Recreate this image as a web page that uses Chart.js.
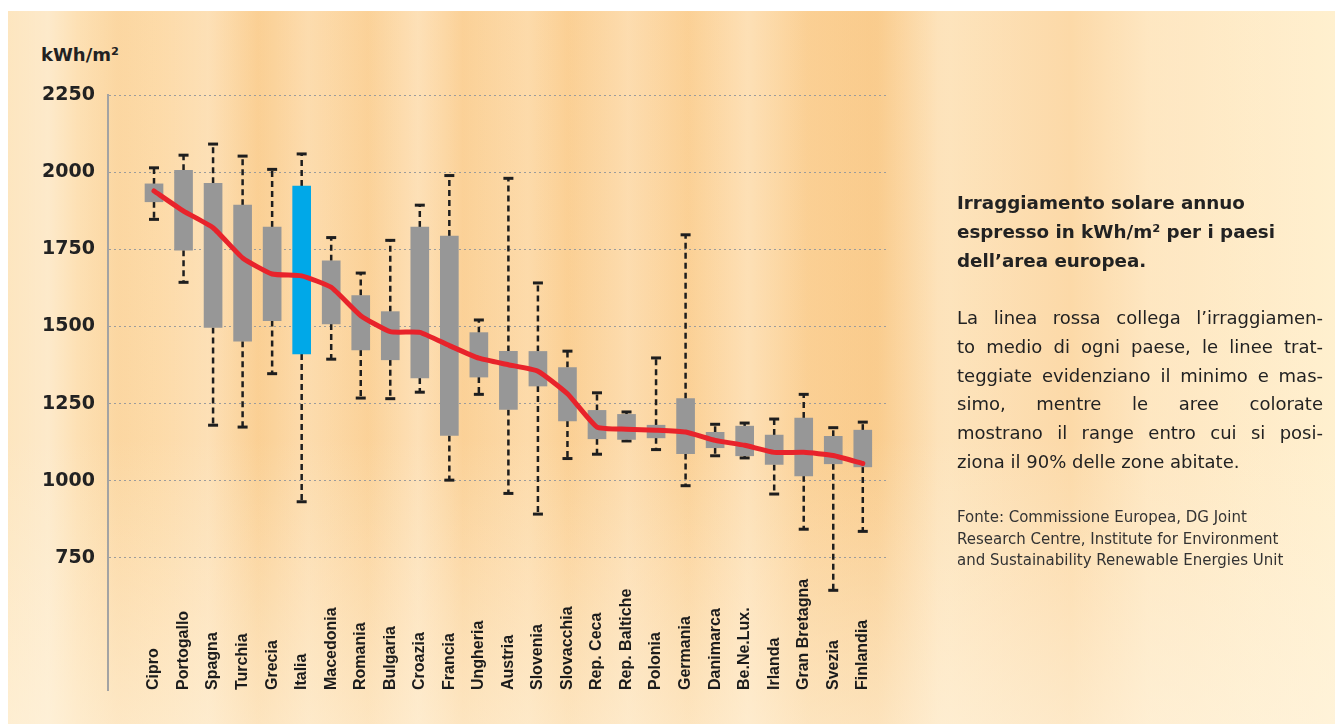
<!DOCTYPE html>
<html>
<head>
<meta charset="utf-8">
<script src="https://cdn.jsdelivr.net/npm/chart.js@4.4.1/dist/chart.umd.min.js"></script>
<style>
    html, body { margin: 0; padding: 0; background: #ffffff; }
    body { width: 1335px; height: 724px; position: relative; overflow: hidden; font-family: "DejaVu Sans", sans-serif; }
    #bg {
        position: absolute; left: 8px; top: 11px; width: 1327px; height: 713px;
        background:
            linear-gradient(180deg, rgba(255,255,255,0) 0%, rgba(255,255,255,0) 60%, rgba(255,245,225,0.55) 100%),
            linear-gradient(90deg, rgba(255,255,255,0) 0px, rgba(255,255,255,0.25) 40px, rgba(255,255,255,0) 70px, rgba(240,170,80,0.12) 110px, rgba(255,255,255,0) 150px, rgba(255,255,255,0.2) 200px, rgba(240,170,80,0.14) 250px, rgba(255,255,255,0.15) 300px, rgba(240,170,80,0.12) 360px, rgba(255,255,255,0.2) 410px, rgba(240,170,80,0.16) 455px, rgba(255,255,255,0.1) 520px, rgba(240,170,80,0.12) 560px, rgba(255,255,255,0.2) 620px, rgba(240,170,80,0.12) 680px, rgba(255,255,255,0.2) 740px, rgba(240,170,80,0.15) 800px, rgba(240,170,80,0.2) 870px, rgba(255,255,255,0.15) 930px, rgba(255,255,255,0) 1327px),
            linear-gradient(90deg, #fde6c0 0%, #fddcab 9%, #fcd59e 20%, #fdd9a6 33%, #fcd39a 46%, #fdd8a3 56%, #fcd49c 65%, #fddfb1 71%, #fcd59e 80%, #fee5bd 86%, #fff0cf 100%);
    }
    #chart { position: absolute; left: 0; top: 0; }
    #unit { position: absolute; left: 41px; top: 46px; font: bold 18px "DejaVu Sans", sans-serif; color: #222; line-height: 18px; }
    #side { position: absolute; left: 957px; top: 0; width: 366px; color: #222; }
    .title { position: absolute; top: 188px; width: 366px; font: bold 18.3px "DejaVu Sans", sans-serif; line-height: 29px; white-space: nowrap; }
    .body { position: absolute; top: 304px; width: 366px; font: 18px "DejaVu Sans", sans-serif; line-height: 28.8px; }
    .body span { display: block; text-align: justify; text-align-last: justify; white-space: nowrap; }
    .body span.last { text-align-last: left; }
    .src { position: absolute; top: 507px; width: 366px; font: 15px "DejaVu Sans", sans-serif; line-height: 21.5px; color: #333; white-space: nowrap; }
</style>
</head>
<body>
<div id="bg"></div>
<div id="unit">kWh/m²</div>
<canvas id="chart" width="1335" height="724"></canvas>
<div id="side">
    <div class="title">Irraggiamento solare annuo<br>espresso in kWh/m² per i paesi<br>dell’area europea.</div>
    <div class="body">
        <span>La linea rossa collega l’irraggiamen-</span>
        <span>to medio di ogni paese, le linee trat-</span>
        <span>teggiate evidenziano il minimo e mas-</span>
        <span>simo, mentre le aree colorate</span>
        <span>mostrano il range entro cui si posi-</span>
        <span class="last">ziona il 90% delle zone abitate.</span>
    </div>
    <div class="src">Fonte: Commissione Europea, DG Joint<br>Research Centre, Institute for Environment<br>and Sustainability Renewable Energies Unit</div>
</div>
<script>
const countries = ["Cipro", "Portogallo", "Spagna", "Turchia", "Grecia", "Italia", "Macedonia", "Romania", "Bulgaria", "Croazia", "Francia", "Ungheria", "Austria", "Slovenia", "Slovacchia", "Rep. Ceca", "Rep. Baltiche", "Polonia", "Germania", "Danimarca", "Be.Ne.Lux.", "Irlanda", "Gran Bretagna", "Svezia", "Finlandia"];

// 90% range of inhabited zones
const boxLow = [1904, 1747, 1497, 1452, 1519, 1411, 1508, 1424, 1392, 1333, 1147, 1336, 1231, 1307, 1194, 1136, 1134, 1139, 1088, 1107, 1081, 1053, 1016, 1055, 1045];
const boxHigh = [1962, 2006, 1964, 1893, 1822, 1955, 1713, 1600, 1548, 1822, 1793, 1480, 1419, 1419, 1367, 1228, 1215, 1180, 1266, 1157, 1177, 1148, 1203, 1144, 1164];

// min / max (dashed lines)
const minValues = [1847, 1643, 1180, 1174, 1347, 932, 1394, 1268, 1266, 1287, 1002, 1280, 959, 892, 1072, 1086, 1129, 1101, 984, 1081, 1074, 957, 843, 645, 836];
const maxValues = [2014, 2055, 2091, 2052, 2009, 2059, 1788, 1673, 1779, 1893, 1989, 1521, 1980, 1641, 1420, 1285, 1223, 1398, 1797, 1183, 1187, 1200, 1280, 1172, 1190];

// average (red line)
const meanValues = [1939, 1874, 1820, 1722, 1670, 1664, 1627, 1535, 1483, 1481, 1438, 1397, 1376, 1355, 1282, 1174, 1167, 1164, 1158, 1131, 1115, 1092, 1092, 1082, 1056];

const yTicks = [750, 1000, 1250, 1500, 1750, 2000, 2250];
const highlight = "Italia";

const boxColors = countries.map(c => (c === highlight ? "#00a8e8" : "#979797"));

// dashed whiskers with end caps
const whiskerPlugin = {
    id: "whiskers",
    beforeDatasetsDraw(chart) {
        const ctx = chart.ctx;
        const x = chart.scales.x;
        const y = chart.scales.y;

        ctx.save();
        ctx.strokeStyle = "#1e1e1e";
        countries.forEach((c, i) => {
            const px = x.getPixelForValue(i);
            const pairs = [
                [boxHigh[i], maxValues[i]],
                [boxLow[i], minValues[i]],
            ];
            pairs.forEach(([from, to]) => {
                const y0 = y.getPixelForValue(from);
                const y1 = y.getPixelForValue(to);
                ctx.lineWidth = 2.5;
                ctx.setLineDash([6, 4]);
                ctx.beginPath();
                ctx.moveTo(px, y0);
                ctx.lineTo(px, y1);
                ctx.stroke();

                ctx.setLineDash([]);
                ctx.lineWidth = 3;
                ctx.beginPath();
                ctx.moveTo(px - 5, y1);
                ctx.lineTo(px + 5, y1);
                ctx.stroke();
            });
        });
        ctx.restore();
    },
};

// country names, vertical, inside the plot bottom
const labelPlugin = {
    id: "countryLabels",
    afterDraw(chart) {
        const ctx = chart.ctx;
        const x = chart.scales.x;
        const bottom = chart.chartArea.bottom;

        ctx.save();
        ctx.font = "bold 16px 'Liberation Sans', Arial, sans-serif";
        ctx.fillStyle = "#1c1c1c";
        ctx.textAlign = "left";
        ctx.textBaseline = "middle";
        countries.forEach((c, i) => {
            ctx.save();
            ctx.translate(x.getPixelForValue(i), bottom);
            ctx.rotate(-Math.PI / 2);
            ctx.fillText(c, 0, 0);
            ctx.restore();
        });
        ctx.restore();
    },
};

function setChart() {
    const ctx = document.getElementById("chart").getContext("2d");

    new Chart(ctx, {
        data: {
            datasets: [
                {
                    type: "line",
                    label: "Media",
                    data: meanValues.map((v, i) => ({ x: i, y: v })),
                    borderColor: "#e8232b",
                    borderWidth: 5,
                    borderCapStyle: "round",
                    borderJoinStyle: "round",
                    pointRadius: 0,
                    tension: 0.15,
                    order: 0,
                },
                {
                    type: "bar",
                    label: "Range 90%",
                    data: boxLow.map((v, i) => ({ x: i, y: [v, boxHigh[i]] })),
                    backgroundColor: boxColors,
                    borderWidth: 0,
                    barThickness: 18,
                    order: 1,
                },
            ],
        },
        options: {
            responsive: false,
            animation: false,
            devicePixelRatio: 1,
            layout: {
                padding: { left: 0, top: 95, right: 448, bottom: 34 },
            },
            plugins: {
                legend: { display: false },
                tooltip: { enabled: false },
            },
            scales: {
                x: {
                    type: "linear",
                    display: false,
                    offset: false,
                    min: -1.558,
                    max: 24.82,
                },
                y: {
                    min: 322,
                    max: 2250,
                    afterFit: scale => {
                        scale.width = 108;
                    },
                    afterBuildTicks: scale => {
                        scale.ticks = yTicks.map(v => ({ value: v }));
                    },
                    border: { display: true, color: "#a3a3a3", width: 2, dash: [2, 3] },
                    grid: {
                        drawTicks: false,
                        color: "#9c9c9c",
                        lineWidth: 1,
                    },
                    ticks: {
                        padding: 13,
                        color: "#222222",
                        font: { family: "'DejaVu Sans'", weight: "bold", size: 19 },
                        callback: v => String(v),
                    },
                },
            },
        },
        plugins: [whiskerPlugin, labelPlugin],
    });
}

setChart();
</script>
</body>
</html>
